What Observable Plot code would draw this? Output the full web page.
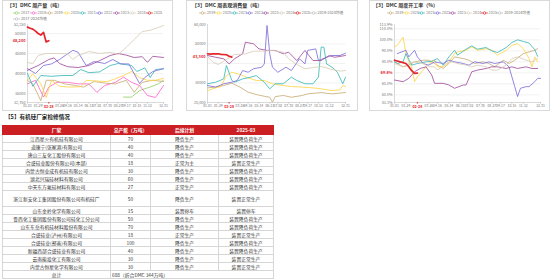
<!DOCTYPE html>
<html><head><meta charset="utf-8">
<script src="https://cdn.jsdelivr.net/npm/d3@7"></script>
<script src="https://cdn.jsdelivr.net/npm/@observablehq/plot@0.6"></script>
<style>
body{margin:0;background:#fff;font-family:"Noto Sans CJK SC","Noto Sans",sans-serif;}
#root{position:relative;width:550px;height:279px;overflow:hidden;background:#fff}
.panel{position:absolute;border:1px solid #dadada;box-sizing:border-box;background:#fff}
.title{position:absolute;font-size:5px;line-height:6px;color:#333;white-space:nowrap;font-weight:bold}
.leg{position:absolute;font-size:3.8px;line-height:4px;color:#777;white-space:nowrap;display:flex;align-items:center}
#tbl{position:absolute;left:2px;top:125px;width:271px;border-collapse:collapse;table-layout:fixed;font-size:4.8px;color:#333}
#tbl td,#tbl th{border:1px solid #d6d6d6;padding:0;text-align:center;white-space:nowrap;overflow:hidden;line-height:6px}
#tbl th{background:#cc1f24;color:#fff;font-weight:bold;border-color:#cc1f24}
</style></head>
<body><div id="root"></div>
<script>
// ---------- shared x axis (week of year) ----------
const weekTicks = [1,5,13,16,20,24,27,31,35,38,42,46,52];
const weekTickLabels = ["01-01","01-29","03-26","04-16","05-14","06-11","07-02","07-30","08-27","09-17","10-15","11-12","12-31"];
const redWeek = 9;
const redWeekLabel = "02-28";

// ---------- colours ----------
const yearColors = {"2017":"#92d06a","2018":"#ff66cc","2019":"#c7ad78","2020":"#ffd54a","2021":"#3db8b8","2022":"#7f70dc","2023":"#a24f9d","2024":"#d9cdb7","2025":"#e3262b","avg":"#bdbdbd"};

// ---------- Chart 1: DMC 周产量 (吨) ----------
const prodTitle = "【3】DMC 周产量（吨）";
const prodYears = ["2017","2018","2019","2020","2021","2022","2023","2024","2025"];
const prodAvgLabel = "2017-2024均值";
const prod2017 = [[37,34100],[40,34100],[43,35700],[45,36200],[47,36600],[50,37400],[52,38300]];
const prod2018 = [[1,37400],[4,38300],[7,34100],[9,36600],[12,37800],[16,37800],[20,37400],[24,37400],[27,35300],[30,37000],[34,37800],[37,39100],[40,37800],[43,37000],[46,34500],[49,34000],[52,37000]];
const prod2019 = [[1,38300],[3,37400],[6,33200],[8,38300],[11,38300],[15,37400],[19,37000],[22,36600],[26,38000],[30,37600],[34,37400],[38,38300],[41,35300],[44,37800],[48,38300],[52,38000]];
const prod2020 = [[1,38300],[3,39900],[6,37400],[8,34000],[10,38300],[13,36800],[17,36600],[21,36700],[23,38300],[27,38100],[31,38000],[34,38700],[37,39500],[40,40500],[43,39000],[46,38300],[49,38300],[52,38800]];
const prod2021 = [[1,40000],[3,36800],[6,39500],[10,39300],[14,39500],[18,39500],[21,41000],[24,40200],[28,40400],[32,42000],[35,42500],[38,42200],[40,42000],[42,40500],[45,41400],[47,39000],[49,41000],[52,41200]];
const prod2022 = [[1,41200],[4,40000],[7,42000],[10,42400],[13,43500],[16,44900],[18,45800],[20,45300],[23,42000],[26,43000],[30,42500],[33,43500],[36,42400],[39,42400],[43,37500],[45,39000],[48,40500],[52,41200]];
const prod2023 = [[1,40800],[5,42000],[9,43500],[11,43900],[13,42500],[16,41700],[20,41500],[24,42000],[28,43200],[32,44500],[35,45000],[38,44600],[41,44000],[44,44200],[46,42800],[48,44300],[52,44000]];
const prod2024 = [[1,42750],[3,42500],[5,44500],[8,45000],[12,45000],[16,44900],[18,43500],[20,44500],[24,45500],[28,45000],[32,45300],[35,44800],[38,46500],[41,48500],[44,50500],[47,50800],[50,51500],[52,52000]];
const prod2025 = [[1,51600],[2,51300],[3,51100],[4,50600],[5,50000],[6,49600],[7,50300],[8,47900],[9,48200]];
const prodYTicks = [35000,40000,45000,50000];
const prodYDomain = [32750,52250];

// ---------- Chart 2: DMC 周表观消费量 (吨) ----------
const consTitle = "【3】DMC 周表观消费量（吨）";
const consYears = ["2019","2020","2021","2022","2023","2024","2025"];
const consAvgLabel = "2019-2024均值";
const cons2019 = [[1,27500],[4,27900],[7,28700],[10,29900],[13,27900],[16,25300],[19,24100],[22,23200],[24,22700],[25,20200],[26,23000],[29,23600],[32,22700],[36,23600],[38,24400],[43,25100],[47,24400],[52,25100]];
const cons2020 = [[1,26100],[4,27500],[6,28200],[8,33800],[10,35500],[13,34400],[16,32600],[19,31300],[22,31300],[25,29600],[29,28700],[32,28200],[36,27900],[40,27500],[43,27000],[47,26100],[50,26500],[51,28700],[52,28200]];
const cons2021 = [[1,29600],[4,30400],[7,32100],[8,39000],[10,31300],[11,30400],[14,32100],[17,33000],[19,33800],[22,30400],[24,27000],[26,29600],[29,29600],[32,33000],[34,31300],[37,29600],[40,29600],[42,33000],[43,48400],[44,48400],[45,39800],[47,38100],[49,35500],[51,29600],[52,33000]];
const cons2022 = [[1,28700],[4,27900],[7,29600],[10,30400],[12,31300],[14,36400],[16,35500],[18,37300],[21,38100],[22,39800],[23,59500],[24,45000],[25,38100],[27,35500],[30,38100],[32,36400],[35,42400],[37,39800],[38,46700],[41,47500],[42,41500],[45,43200],[47,44100],[50,44100],[52,45300]];
const cons2023 = [[1,44100],[4,43200],[7,42400],[9,39800],[11,42400],[14,45000],[15,50900],[18,50100],[20,47500],[23,46700],[26,46700],[29,45000],[31,45800],[34,41500],[35,43200],[37,46700],[40,41500],[43,41500],[46,44100],[48,43200],[52,44100]];
const cons2024 = [[1,43600],[3,40700],[5,39500],[9,42900],[11,44600],[15,44900],[18,46300],[21,46300],[25,46700],[29,45800],[31,42400],[34,39500],[37,37300],[41,38100],[43,38500],[46,37300],[50,36100],[52,36400]];
const cons2025 = [[1,45000],[2,44800],[3,44900],[5,45000],[6,44700],[8,44500],[9,43700],[10,43300]];
const consYTicks = [30000,50000];
const consGrid = [30000,40000,50000];
const consYDomain = [20000,60000];

// ---------- Chart 3: DMC 周度开工率 (%) ----------
const rateTitle = "【3】DMC 周度开工率（%）";
const rateYears = ["2019","2020","2021","2022","2023","2024","2025"];
const rateAvgLabel = "2019-2024均值";
const rate2019 = [[1,80],[4,75.5],[6,77],[8,80],[11,81.5],[13,81.5],[15,78.5],[18,74],[20,78.5],[22,84.5],[25,83],[27,81.5],[29,78.5],[32,80],[34,78.5],[36,75.5],[39,81.5],[41,78.5],[43,81.5],[46,87.5],[48,89],[50,90.5],[51,92]];
const rate2020 = [[1,93.5],[2,95],[4,102.5],[5,87.5],[6,80],[7,75.5],[8,62],[9,66.5],[11,72.5],[13,78.5],[15,81.5],[16,75.5],[18,75.5],[20,80],[22,87.5],[23,89],[26,90.5],[28,93.5],[30,90.5],[33,92],[35,90.5],[37,86],[40,90.5],[42,95],[44,96.5],[46,92],[48,83],[49,75.5],[50,84.5],[51,80]];
const rate2021 = [[1,80],[2,78.5],[4,80],[5,87.5],[7,77],[9,78.5],[12,80],[14,80.6],[16,83],[18,77],[20,84.5],[22,90.5],[23,86],[26,91.5],[28,94.5],[30,91.5],[33,93],[35,90],[37,88.5],[40,93],[42,97.5],[44,100],[46,98.5],[48,97],[50,91],[51,85]];
const rate2022 = [[2,87.5],[5,90.5],[6,84.5],[8,90.5],[9,84.5],[11,78.5],[13,77],[15,80],[18,78.5],[20,81.5],[22,80],[25,78.5],[27,77],[29,80],[32,78.5],[34,80],[36,78.5],[39,80],[41,75.5],[42,66.5],[43,57.5],[44,48.5],[45,56],[47,57.5],[48,57.5],[50,62],[51,65],[52,65]];
const rate2023 = [[1,63.5],[4,62],[6,65],[8,71],[10,74],[12,75.5],[14,68],[15,60.5],[18,60.5],[20,59],[22,56],[25,59],[26,59],[27,65],[28,71],[30,72.5],[33,74],[35,75.5],[37,75.5],[40,74],[42,75.5],[44,74],[47,75.5],[49,74],[51,74]];
const rate2024 = [[1,78.5],[4,75.5],[6,78.5],[8,80],[11,78.5],[13,75.5],[15,75.5],[16,72.5],[19,78.5],[21,80],[23,78.5],[26,77],[28,75.5],[30,77],[33,75.5],[35,72.5],[37,72.5],[40,77],[42,83],[44,84.5],[47,81.5],[49,80],[51,83]];
const rate2025 = [[1,81.5],[3,80],[5,78.5],[6,75.5],[7,72],[8,69.5],[9,69.8]];
const rateYTicks = [50,60,80,90,100,110];
const rateGrid = [50,60,70,80,90,100,110];
const rateYDomain = [43.1,113.9];

// ---------- Table: 有机硅厂家检修情况 ----------
const tableTitle = "【5】有机硅厂家检修情况";
const tableHeaders = ["厂家","总产能（万吨）","后续计划","2025-03"];
const companies = ["江西星火有机硅有限公司","道康宁(张家港)有限公司","唐山三友化工股份有限公司","合盛硅业股份有限公司(本部)","内蒙古恒业成有机硅有限公司","湖北兴瑞硅材料有限公司","中天东方氟硅材料有限公司","浙江新安化工集团股份有限公司有机硅厂","山东金岭化学有限公司","鲁西化工集团股份有限公司硅化工分公司","山东东岳有机硅材料股份有限公司","合盛硅业(泸州)有限公司","合盛硅业(鄯善)有限公司","新疆西部合盛硅业有限公司","云南能投化工有限公司","内蒙古恒星化学有限公司"];
const capacities = [70,40,40,18,30,60,27,50,15,50,70,18,100,40,30,30];
const plans = ["降负生产","降负生产","降负生产","正常为主","降负生产","降负生产","正常生产","降负生产","装置停车","降负生产","降负生产","正常生产","降负生产","降负生产","降负生产","降负生产"];
const statuses = ["装置降负荷生产","装置降负荷生产","装置降负荷生产","装置正常生产","装置降负荷生产","装置降负荷生产","装置降负荷生产","装置正常生产","装置停车","装置降负荷生产","装置降负荷生产","装置正常生产","装置降负荷生产","装置降负荷生产","装置正常生产","装置正常生产"];
const totalLabel = "总计";
const dmcEquivalent = 344;

// ================= rendering =================
const root = document.getElementById("root");
const FONT = '"Noto Sans CJK SC","Noto Sans",sans-serif';

function addDiv(cls, css, html){const d=document.createElement("div");d.className=cls;Object.assign(d.style,css);d.innerHTML=html||"";root.appendChild(d);return d;}

function legendItem(name, color, x, y){
  addDiv("leg",{left:x+"px",top:y+"px"},
   `<svg width="7" height="4" style="display:block"><line x1="0" y1="2" x2="7" y2="2" stroke="${color}" stroke-width="0.7"/><circle cx="3.5" cy="2" r="1.3" fill="#fff" stroke="${color}" stroke-width="0.7"/></svg><span style="margin-left:1px">${name}</span>`);
}

function seasonal(cfg){
  const data = cfg.series.flatMap(s => s.pts.map(([w,v]) => ({year:s.name, w, v})));
  const others = data.filter(d => d.year !== "2025");
  const cur = data.filter(d => d.year === "2025");
  const last = cur[cur.length-1];
  const plot = Plot.plot({
    width: cfg.width, height: cfg.height,
    marginLeft: cfg.ml, marginRight: cfg.mr, marginTop: cfg.mt, marginBottom: cfg.mb,
    x: {domain:[1,52], label:null},
    y: {domain: cfg.yDomain, label:null},
    color: {domain: Object.keys(yearColors), range: Object.values(yearColors)},
    style: {fontSize:"4px", fontFamily: FONT, color:"#777", background:"transparent", overflow:"visible"},
    marks: [
      Plot.gridY(cfg.grid, {stroke:"#e9e9e9", strokeOpacity:1, strokeWidth:0.6}),
      Plot.ruleY([cfg.yDomain[0]], {stroke:"#c8c8c8", strokeWidth:0.7}),
      Plot.ruleX([1], {stroke:"#c8c8c8", strokeWidth:0.7}),
      Plot.axisY(cfg.yTicks, {label:null, tickSize:0, tickPadding:2, tickFormat: cfg.yFmt, fontSize:"3.8px"}),
      Plot.axisY(cfg.yDomain, {label:null, tickSize:0, tickPadding:2, tickFormat: cfg.extFmt, fontSize:"3.8px"}),
      Plot.axisX(weekTicks, {label:null, tickSize:1.5, tickPadding:1, stroke:"#c8c8c8", tickFormat: w => weekTickLabels[weekTicks.indexOf(w)], fontSize:"3.4px"}),
      Plot.axisX([redWeek], {label:null, tickSize:1.5, tickPadding:1, color:"#e3262b", tickFormat: () => redWeekLabel, fontSize:"3.6px", fontWeight:"bold"}),
      Plot.line(others, {x:"w", y:"v", z:"year", stroke:"year", strokeWidth:0.85}),
      Plot.line(cur, {x:"w", y:"v", stroke:"year", strokeWidth:1.7}),
      Plot.text([last], {y:"v", frameAnchor:"left", dx:-2, textAnchor:"end", text: d => cfg.redFmt(d.v), fill:"#e3262b", fontWeight:"bold", fontSize:"3.9px"})
    ]
  });
  plot.style.position = "absolute";
  plot.style.left = cfg.left + "px";
  plot.style.top = cfg.top + "px";
  root.appendChild(plot);
}

function makeSeries(years, arrs){ return years.map((y,i)=>({name:y, pts:arrs[i]})); }

// panels
addDiv("panel",{left:"2px",top:"0px",width:"171px",height:"111px"});
addDiv("panel",{left:"186px",top:"0px",width:"172px",height:"111px"});
addDiv("panel",{left:"369px",top:"0px",width:"181px",height:"111px"});

// titles
addDiv("title",{left:"7px",top:"2px"},prodTitle);
addDiv("title",{left:"192px",top:"2px"},consTitle);
addDiv("title",{left:"373px",top:"2px"},rateTitle);

// legends
prodYears.forEach((y,i)=>legendItem(y, yearColors[y], 13 + i*16.6, 11));
legendItem(prodAvgLabel, yearColors.avg, 13, 16.5);
consYears.forEach((y,i)=>legendItem(y, yearColors[y], 199 + i*15.8, 11));
legendItem(consAvgLabel, yearColors.avg, 199 + 7*15.8, 11);
rateYears.forEach((y,i)=>legendItem(y, yearColors[y], 387 + i*15.6, 11));
legendItem(rateAvgLabel, yearColors.avg, 387 + 7*15.6, 11);

const fmtComma = d3.format(",");
seasonal({
  series: makeSeries(prodYears,[prod2017,prod2018,prod2019,prod2020,prod2021,prod2022,prod2023,prod2024,prod2025]),
  yDomain: prodYDomain, yTicks: prodYTicks, grid: prodYTicks,
  yFmt: d => String(d), extFmt: d => fmtComma(d), redFmt: v => fmtComma(v),
  left:2, top:18, width:170, height:92, ml:25, mr:9, mt:6, mb:8
});
seasonal({
  series: makeSeries(consYears,[cons2019,cons2020,cons2021,cons2022,cons2023,cons2024,cons2025]),
  yDomain: consYDomain, yTicks: consYTicks, grid: consGrid,
  yFmt: d => String(d), extFmt: d => fmtComma(d), redFmt: v => fmtComma(v),
  left:186, top:18, width:171, height:92, ml:21, mr:12, mt:6, mb:8
});
seasonal({
  series: makeSeries(rateYears,[rate2019,rate2020,rate2021,rate2022,rate2023,rate2024,rate2025]),
  yDomain: rateYDomain, yTicks: rateYTicks, grid: rateGrid,
  yFmt: d => d.toFixed(1)+"%", extFmt: d => d.toFixed(1)+"%", redFmt: v => v.toFixed(1)+"%",
  left:369, top:18, width:180, height:92, ml:25, mr:9, mt:6, mb:8
});

// table
addDiv("title",{left:"5px",top:"113.5px",fontSize:"5.6px",lineHeight:"7px",fontWeight:"bold",color:"#222"},tableTitle);
const colW = [108,40,68,55];
let html = `<colgroup>${colW.map(w=>`<col style="width:${w}px">`).join("")}</colgroup>`;
html += `<tr style="height:9px">${tableHeaders.map(h=>`<th>${h}</th>`).join("")}</tr>`;
companies.forEach((c,i)=>{
  const h = i===7 ? 16 : 8;
  html += `<tr style="height:${h}px"><td>${c}</td><td>${capacities[i]}</td><td>${plans[i]}</td><td>${statuses[i]}</td></tr>`;
});
html += `<tr style="height:8px"><td>${totalLabel}</td><td colspan="3" style="text-align:left;padding-left:1px">${d3.sum(capacities)}（折合DMC ${dmcEquivalent}万吨）</td></tr>`;
const t = document.createElement("table"); t.id="tbl"; t.innerHTML = html; root.appendChild(t);
</script>
</body></html>
